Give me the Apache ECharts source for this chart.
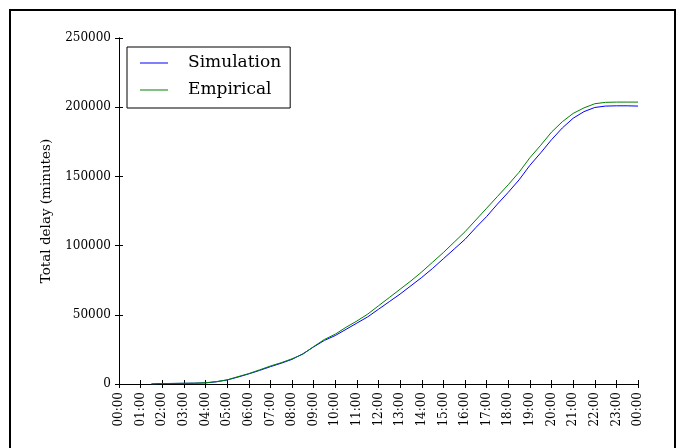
<!DOCTYPE html>
<html>
<head>
<meta charset="utf-8">
<script src="https://cdn.jsdelivr.net/npm/echarts@6/dist/echarts.min.js"></script>
<style>
html,body{margin:0;padding:0;background:#fff;}
#chart{width:681px;height:448px;}
</style>
</head>
<body>
<div id="chart"></div>
<script>
// Hours of day (x values)
var hours = [1.5, 2, 2.5, 3, 3.5, 4, 4.5, 5, 5.5, 6, 6.5, 7, 7.5, 8, 8.5, 9, 9.5, 10, 10.5, 11, 11.5, 12,
  12.5, 13, 13.5, 14, 14.5, 15, 15.5, 16, 16.5, 17, 17.5, 18, 18.5, 19, 19.5, 20, 20.5, 21, 21.5, 22,
  22.5, 23, 23.5, 24];
// Cumulative total delay (minutes)
var simulation = [0, 300, 400, 500, 600, 800, 1600, 2900, 5000, 7300, 9800, 12500, 15000, 17800, 21800,
  26800, 31500, 35000, 39500, 44000, 48500, 54000, 59500, 65000, 71000, 77000, 83500, 90500, 97500,
  104500, 113000, 121000, 130000, 138500, 147500, 158000, 167000, 176500, 185000, 192000, 196800,
  199800, 200800, 201000, 201000, 200800];
var empirical = [0, 300, 400, 500, 600, 900, 1700, 3000, 5300, 7500, 10200, 13000, 15400, 18200, 21500,
  27000, 32200, 36000, 41000, 45500, 50500, 56500, 62500, 68500, 74500, 81000, 88000, 95000, 102500,
  110000, 118500, 127000, 135500, 144000, 153000, 163500, 172500, 182000, 189500, 195500, 199500,
  202500, 203500, 203700, 203700, 203700];
var seriesNames = ['Simulation', 'Empirical'];
var yTitle = 'Total delay (minutes)';

function pairs(xs, ys) { return xs.map(function (x, i) { return [x, ys[i]]; }); }
function hourLabel(v) { var h = Math.round(v) % 24; return (h < 10 ? '0' : '') + h + ':00'; }

var serif = 'DejaVu Serif';
var chart = echarts.init(document.getElementById('chart'), null, {renderer: 'canvas'});
var axisLine = {show: true, lineStyle: {color: '#000', width: 1}};
var tick = {show: true, inside: true, length: 4, lineStyle: {color: '#000', width: 1}};
chart.setOption({
  animation: false,
  backgroundColor: '#fff',
  graphic: [{
    type: 'rect', shape: {x: 10, y: 10, width: 665, height: 460},
    style: {fill: 'none', stroke: '#000', lineWidth: 2}, silent: true, z: 100
  }],
  grid: {left: 119, right: 43, top: 38, bottom: 64},
  legend: {
    orient: 'vertical', left: 127, top: 47,
    data: seriesNames.map(function (n) { return {name: n, icon: 'rect'}; }),
    backgroundColor: '#fff',
    borderColor: '#000', borderWidth: 1, borderRadius: 0,
    padding: [7, 9, 9, 13],
    itemWidth: 28, itemHeight: 1, itemGap: 9,
    textStyle: {fontFamily: serif, fontSize: 17, lineHeight: 18, color: '#000', padding: [0, 0, 0, 15]}
  },
  xAxis: [{
    type: 'value', min: 0, max: 24, interval: 1, position: 'bottom',
    axisLine: axisLine, axisTick: tick, splitLine: {show: false},
    axisLabel: {rotate: 90, margin: 8, fontFamily: serif, fontSize: 12, color: '#000', formatter: hourLabel}
  }, {
    type: 'value', min: 0, max: 24, interval: 1, position: 'top',
    axisLine: axisLine, axisTick: tick, splitLine: {show: false}, axisLabel: {show: false}
  }],
  yAxis: [{
    type: 'value', min: 0, max: 250000, interval: 50000, position: 'left',
    name: yTitle, nameLocation: 'middle', nameGap: 66,
    nameTextStyle: {fontFamily: serif, fontSize: 13.5, color: '#000'},
    axisLine: axisLine, axisTick: tick, splitLine: {show: false},
    axisLabel: {margin: 8, fontFamily: serif, fontSize: 12, color: '#000', formatter: function (v) { return String(v); }}
  }, {
    type: 'value', min: 0, max: 250000, interval: 50000, position: 'right',
    axisLine: axisLine, axisTick: tick, splitLine: {show: false}, axisLabel: {show: false}
  }],
  series: [{
    name: seriesNames[0], type: 'line', data: pairs(hours, simulation),
    symbol: 'none', showSymbol: false, color: '#0000ff',
    lineStyle: {color: '#0000ff', width: 1}
  }, {
    name: seriesNames[1], type: 'line', data: pairs(hours, empirical),
    symbol: 'none', showSymbol: false, color: '#008000',
    lineStyle: {color: '#008000', width: 1}
  }]
});
</script>
</body>
</html>
